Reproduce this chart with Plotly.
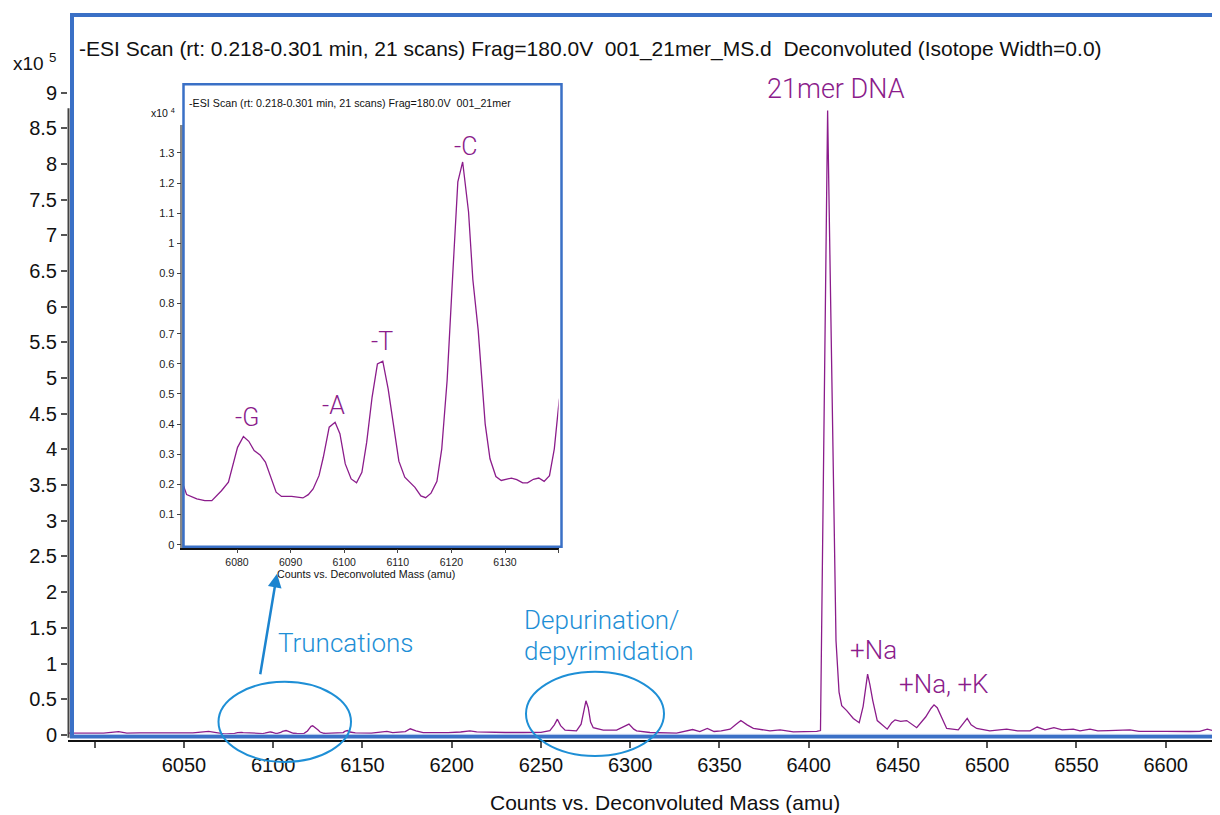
import plotly.graph_objects as go

# ---------------- data ----------------
mass = [5985, 5995, 6005, 6013.4, 6018, 6025, 6035, 6045, 6055, 6063.8, 6068,
        6070.6, 6072.5, 6074.0, 6075.3, 6077.1, 6078.4, 6080.1, 6081.2, 6082.2, 6083.2,
        6084.3, 6085.3, 6087.3, 6088.3, 6090.2, 6092.3, 6093.3, 6094.2, 6095.3, 6096.1,
        6097.2, 6098.3, 6099.2, 6100.2, 6101.3, 6102.3, 6103.3, 6104.2, 6105.2, 6106.2,
        6107.2, 6108.2, 6109.2, 6110.2, 6111.3, 6113.2, 6114.3, 6115.2, 6116.2, 6117.3,
        6118.2, 6119.2, 6120.2, 6121.2, 6122.1, 6123.2, 6124.0, 6125.0, 6126.3, 6127.2,
        6128.3, 6129.3, 6131.2, 6132.2, 6133.3, 6134.2, 6135.3, 6136.3, 6137.3, 6138.3,
        6139.2, 6140.1,
        6141.5, 6143, 6146, 6155, 6161, 6163.7, 6167, 6174, 6176.8, 6180, 6184, 6190,
        6198, 6205, 6210.2, 6214, 6220, 6230, 6240, 6250, 6255, 6257.5, 6259.2, 6261,
        6263.5, 6269.9, 6272.5, 6274, 6275.2, 6276.5, 6277.8, 6279.3, 6284.9, 6292.4,
        6296.5, 6299.3, 6302, 6303.6, 6311.1, 6318, 6326, 6335, 6339, 6343.2, 6347,
        6351, 6356, 6359, 6362, 6365.5, 6369, 6378.3, 6384, 6391.4, 6400.7, 6404.5,
        6406.6, 6410.6, 6415.3, 6417.0, 6418.5, 6421.3, 6425, 6428.3, 6430.5, 6432,
        6433, 6434.3, 6435.9, 6438.4, 6444, 6446.5, 6448.4, 6451.5, 6454.9, 6460.5,
        6465.5, 6468.5, 6470.2, 6472, 6473.5, 6477.3, 6483.8, 6487.5, 6488.8, 6491,
        6494.1, 6501.5, 6510.9, 6517, 6524, 6528, 6532.4, 6537.4, 6542, 6548.2, 6552,
        6557.6, 6562, 6568, 6574.4, 6580, 6585, 6591.2, 6600, 6613.6, 6619, 6623.3,
        6627, 6632]

counts = [2400, 2200, 2500, 4500, 2500, 2800, 3000, 3000, 2800, 5000, 3000,
          1660, 1520, 1460, 1460, 1790, 2070, 3230, 3590, 3430, 3120,
          2980, 2740, 1740, 1600, 1600, 1550, 1660, 1850, 2290, 2900,
          3900, 4060, 3680, 2680, 2180, 2050, 2400, 3400, 4890, 6000,
          6090, 5170, 3900, 2770, 2240, 1900, 1620, 1560, 1710, 2100,
          3180, 5450, 8800, 12040, 12700, 11040, 8800, 7110, 4010, 2850,
          2260, 2130, 2210, 2160, 2050, 2050, 2170, 2210, 2100, 2290,
          3180, 4780,
          6000, 4000, 2800, 2500, 3500, 5000, 3000, 4500, 8500, 5500, 3200, 2800,
          3000, 4000, 5600, 4200, 3500, 3300, 3300, 3500, 6000, 14000, 22000, 13000,
          6600, 5600, 15000, 36000, 47800, 38000, 18000, 10000, 6600, 6600,
          11000, 15000, 8000, 5600, 3300, 2800, 2300, 7500, 4700, 8900, 4700,
          5500, 8000, 14000, 20000, 14000, 9000, 5600, 7000, 4200, 4200, 5000,
          6000, 875000, 132000, 60000, 41000, 34000, 23000, 17000, 40000, 70000,
          85000, 70000, 48000, 20000, 8000, 17000, 21000, 19000, 20000, 10000,
          25000, 37000, 42000, 38000, 30000, 9000, 7000, 18000, 23000, 14000,
          9000, 5600, 8000, 5600, 5600, 11000, 7000, 10000, 7000, 8000, 5600,
          8000, 5600, 6000, 7000, 7000, 5000, 4700, 5000, 4700, 5000, 8000,
          5500, 4700]

main_yticks = [i * 0.5 for i in range(19)]
main_yticklabels = ["0", "0.5", "1", "1.5", "2", "2.5", "3", "3.5", "4", "4.5",
                    "5", "5.5", "6", "6.5", "7", "7.5", "8", "8.5", "9"]
main_xticks = list(range(6050, 6601, 50))
main_xticklabels = [str(v) for v in main_xticks]
main_xminor = [6000]
inset_yticks = [i / 10 for i in range(14)]
inset_yticklabels = ["0", "0.1", "0.2", "0.3", "0.4", "0.5", "0.6", "0.7", "0.8",
                     "0.9", "1", "1.1", "1.2", "1.3"]
inset_xticks = list(range(6080, 6131, 10))
inset_xticklabels = [str(v) for v in inset_xticks]
inset_xminor = [6140]

main_title = "-ESI Scan (rt: 0.218-0.301 min, 21 scans) Frag=180.0V  001_21mer_MS.d  Deconvoluted (Isotope Width=0.0)"
inset_title = "-ESI Scan (rt: 0.218-0.301 min, 21 scans) Frag=180.0V  001_21mer"
axis_title = "Counts vs. Deconvoluted Mass (amu)"

# ---------------- layout helpers ----------------
# page body has an 8 px margin; the captured page is slightly taller than the picture
OFF = 8
VS = 815 / 821
W, H = 1220 - OFF, 821 - 2 * OFF
def px(x):
    return (x - OFF) / W
def py(y):
    return 1 - (y / VS - OFF) / H

PURPLE = "#8B1C8B"
BLUE_FRAME = "#3A70C6"
BLUE_NOTE = "#1E8FD6"
AX_FONT = "Liberation Sans, Arial, sans-serif"
NOTE_FONT = "Roboto, sans-serif"

main_y = [c / 1e5 for c in counts]
inset_y = [c / 1e4 for c in counts]

fig = go.Figure()
fig.add_trace(go.Scatter(x=mass, y=main_y, mode="lines",
                         line=dict(color=PURPLE, width=1.3),
                         xaxis="x", yaxis="y", showlegend=False, hoverinfo="skip"))
fig.add_trace(go.Scatter(x=mass, y=inset_y, mode="lines",
                         line=dict(color=PURPLE, width=1.3),
                         xaxis="x2", yaxis="y2", showlegend=False, hoverinfo="skip"))

# main axes geometry: x 6000 at px 94.7, 1.785 px/amu ; y 0 at px 734, 9 at px 92.5
x_left_px, x_right_px = 68, 1220
x_min = 6000 + (x_left_px - 94.7) / 1.785
x_max = 6000 + (x_right_px - 94.7) / 1.785
y_bot_px, y_top_px = 739.5, 15
y_unit = (734 - 92.5) / 9
y_min = -(y_bot_px - 734) / y_unit
y_max = (734 - y_top_px) / y_unit

# inset geometry: 6070 at px 183.4, 5.36 px/amu ; y 0 at px 544, 301 px/unit
ix_left_px, ix_right_px = 183.4, 558.6
iy_bot_px, iy_top_px = 547, 125
iy_min = -(iy_bot_px - 544) / 301
iy_max = (544 - iy_top_px) / 301

fig.update_layout(
    width=W, height=H, margin=dict(l=0, r=0, t=0, b=0),
    paper_bgcolor="white", plot_bgcolor="rgba(0,0,0,0)",
    xaxis=dict(domain=[px(x_left_px), px(x_right_px)], range=[x_min, x_max],
               tickvals=main_xticks, ticktext=main_xticklabels,
               ticks="outside", ticklen=6, tickwidth=1.5, tickcolor="#555",
               minor=dict(tickvals=main_xminor, ticks="outside", ticklen=6,
                          tickwidth=1.5, tickcolor="#555", showgrid=False),
               showline=True, linecolor="#111", linewidth=2,
               showgrid=False, zeroline=False,
               tickfont=dict(family=AX_FONT, size=20, color="#111")),
    yaxis=dict(domain=[py(y_bot_px), py(y_top_px)], range=[y_min, y_max],
               tickvals=main_yticks, ticktext=main_yticklabels,
               ticks="outside", ticklen=6, tickwidth=1.5, tickcolor="#555",
               showline=False, showgrid=False, zeroline=False,
               tickfont=dict(family=AX_FONT, size=20, color="#111")),
    xaxis2=dict(domain=[px(ix_left_px), px(ix_right_px)], range=[6070, 6140],
                anchor="y2",
                tickvals=inset_xticks, ticktext=inset_xticklabels,
                ticks="outside", ticklen=4, tickwidth=1, tickcolor="#444",
                minor=dict(tickvals=inset_xminor, ticks="outside", ticklen=4,
                           tickwidth=1, tickcolor="#444", showgrid=False),
                showline=True, linecolor="#111", linewidth=1.5,
                showgrid=False, zeroline=False,
                tickfont=dict(family=AX_FONT, size=10.5, color="#222")),
    yaxis2=dict(domain=[py(iy_bot_px), py(iy_top_px)], range=[iy_min, iy_max],
                anchor="x2",
                tickvals=inset_yticks, ticktext=inset_yticklabels,
                ticks="outside", ticklen=4, tickwidth=1, tickcolor="#444",
                showline=True, linecolor="#888", linewidth=2.5,
                showgrid=False, zeroline=False,
                tickfont=dict(family=AX_FONT, size=11, color="#222")),
)

shapes = []
# main y axis line
shapes.append(dict(type="line", xref="paper", yref="paper",
                   x0=px(68.5), x1=px(68.5), y0=py(108), y1=py(737),
                   line=dict(color="#444", width=2)))
# main blue frame
shapes.append(dict(type="line", xref="paper", yref="paper",
                   x0=px(72), x1=px(72), y0=py(15), y1=py(737),
                   line=dict(color=BLUE_FRAME, width=4)))
shapes.append(dict(type="line", xref="paper", yref="paper",
                   x0=px(70), x1=px(1222), y0=py(15), y1=py(15),
                   line=dict(color=BLUE_FRAME, width=4)))
shapes.append(dict(type="line", xref="paper", yref="paper",
                   x0=px(70), x1=px(1222), y0=py(735.8), y1=py(735.8),
                   line=dict(color=BLUE_FRAME, width=3.5)))
shapes.append(dict(type="line", xref="paper", yref="paper",
                   x0=px(74), x1=px(1222), y0=py(733.5), y1=py(733.5),
                   line=dict(color="#A9C0E8", width=1)))
# inset blue box
shapes.append(dict(type="rect", xref="paper", yref="paper",
                   x0=px(183.5), x1=px(561.5), y0=py(546), y1=py(84),
                   line=dict(color=BLUE_FRAME, width=2.5)))
# ellipses
shapes.append(dict(type="circle", xref="paper", yref="paper",
                   x0=px(218.5), x1=px(351), y0=py(761), y1=py(681),
                   line=dict(color=BLUE_NOTE, width=2)))
shapes.append(dict(type="circle", xref="paper", yref="paper",
                   x0=px(526), x1=px(664), y0=py(755), y1=py(671),
                   line=dict(color=BLUE_NOTE, width=2)))
fig.update_layout(shapes=shapes)

ann = []
def text(x, y, s, size, color="#111", family=AX_FONT, xanchor="left",
         yanchor="middle", weight=None):
    f = dict(family=family, size=size, color=color)
    if weight is not None:
        f["weight"] = weight
    ann.append(dict(x=px(x), y=py(y), xref="paper", yref="paper", text=s,
                    showarrow=False, xanchor=xanchor, yanchor=yanchor, font=f))

text(77, 49, main_title, 21)
text(11, 62, "x10 <sup>5</sup>", 19)
text(187, 103, inset_title, 10.7)
text(149, 112, "x10 <sup>4</sup>", 10.5)
text(665, 802, axis_title, 21, xanchor="center")
text(366, 573, axis_title, 10.7, xanchor="center")

text(836, 89, "21mer DNA", 27, PURPLE, NOTE_FONT, xanchor="center", weight=300)
text(848, 649, "+Na", 26, PURPLE, NOTE_FONT, weight=300)
text(897, 683, "+Na, +K", 26, PURPLE, NOTE_FONT, weight=300)
text(247, 417, "-G", 25, PURPLE, NOTE_FONT, xanchor="center", weight=300)
text(333, 405, "-A", 25, PURPLE, NOTE_FONT, xanchor="center", weight=300)
text(381.5, 341.5, "-T", 25, PURPLE, NOTE_FONT, xanchor="center", weight=300)
text(465, 146.5, "-C", 25, PURPLE, NOTE_FONT, xanchor="center", weight=300)

text(276, 642, "Truncations", 26, BLUE_NOTE, NOTE_FONT, weight=300)
text(522, 619, "Depurination/", 26, BLUE_NOTE, NOTE_FONT, weight=300)
text(522, 650, "depyrimidation", 26, BLUE_NOTE, NOTE_FONT, weight=300)

# arrow
ann.append(dict(x=px(277), y=py(573), xref="paper", yref="paper",
                ax=-17, ay=round(101 / VS), axref="pixel", ayref="pixel",
                showarrow=True, arrowhead=2, arrowsize=1.1, arrowwidth=2.5,
                arrowcolor="#1C84CF", text=""))
fig.update_layout(annotations=ann)

fig.write_html("out.html")
